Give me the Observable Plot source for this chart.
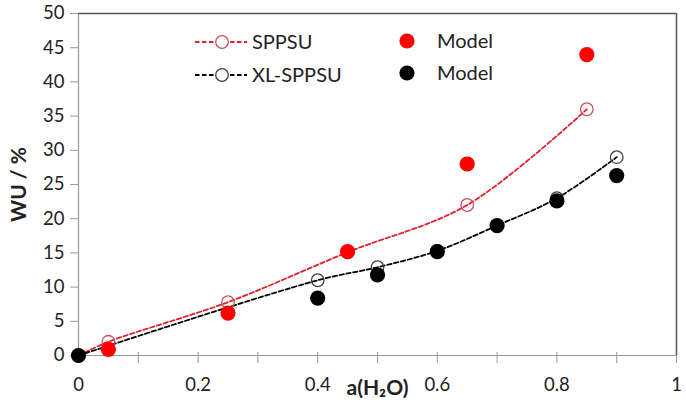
<!DOCTYPE html>
<html>
<head>
<meta charset="utf-8">
<script src="https://cdn.jsdelivr.net/npm/d3@7"></script>
<script src="https://cdn.jsdelivr.net/npm/@observablehq/plot@0.6"></script>
<style>
  html, body { margin: 0; padding: 0; background: #fff; }
  #chart { width: 686px; height: 406px; }
</style>
</head>
<body>
<div id="chart"></div>
<script>
// ---- data ----
const sppsuX = [0, 0.05, 0.25, 0.45, 0.65, 0.85];
const sppsuWU = [0, 2, 7.8, 15.1, 22, 36];
const sppsuModelX = [0.05, 0.25, 0.45, 0.65, 0.85];
const sppsuModelWU = [0.9, 6.2, 15.2, 28, 44];
const xlX = [0, 0.4, 0.5, 0.6, 0.7, 0.8, 0.9];
const xlWU = [0, 11, 12.9, 15.3, 19, 23, 29];
const xlModelX = [0, 0.4, 0.5, 0.6, 0.7, 0.8, 0.9];
const xlModelWU = [0, 8.4, 11.8, 15.2, 19, 22.6, 26.3];
const xTicksMajor = [0, 0.2, 0.4, 0.6, 0.8, 1];
const xTicksMinor = [0.1, 0.3, 0.5, 0.7, 0.9];
const yTicks = [0, 5, 10, 15, 20, 25, 30, 35, 40, 45, 50];
const legendItems = [
  {label: "SPPSU", kind: "line", color: "#e0202e", marker: "#c8505a"},
  {label: "XL-SPPSU", kind: "line", color: "#000000", marker: "#404040"},
  {label: "Model", kind: "dot", color: "#ff0000"},
  {label: "Model", kind: "dot", color: "#000000"}
];

const zip = (xs, ys) => xs.map((x, i) => ({x, y: ys[i]}));
const sppsu = zip(sppsuX, sppsuWU);
const sppsuModel = zip(sppsuModelX, sppsuModelWU);
const xl = zip(xlX, xlWU);
const xlModel = zip(xlModelX, xlModelWU);

const font = "Lato, 'Open Sans', sans-serif";
const blank = () => "";

const chart = Plot.plot({
  width: 686,
  height: 406,
  marginLeft: 78,
  marginRight: 10,
  marginTop: 13,
  marginBottom: 51,
  style: {fontFamily: font, fontSize: "18px", color: "#222", background: "#fff", overflow: "visible"},
  x: {domain: [0, 1]},
  y: {domain: [0, 50]},
  marks: [
    Plot.axisY({ticks: yTicks, tickSize: 8, tickPadding: 6, label: null, stroke: "#999", tickFormat: d => d, fontSize: 18.5}),
    Plot.axisX({ticks: xTicksMajor, tickSize: 8, tickPadding: 14, label: null, stroke: "#999", tickFormat: d => d, fontSize: 18.5}),
    Plot.axisX({ticks: xTicksMinor, tickSize: 8, tickFormat: blank, label: null, stroke: "#999"}),
    Plot.axisX({ticks: [...xTicksMajor, ...xTicksMinor], tickSize: -3, tickFormat: blank, label: null, stroke: "#999"}),
    Plot.ruleX([0], {stroke: "#999", strokeWidth: 1.2}),
    Plot.ruleY([0], {stroke: "#999", strokeWidth: 1.2}),
    Plot.ruleY([50], {stroke: "#555", strokeWidth: 1.5}),
    Plot.ruleX([1], {stroke: "#555", strokeWidth: 1.5}),
    Plot.line(sppsu, {x: "x", y: "y", stroke: "#e0202e", strokeWidth: 1.8, strokeDasharray: "4.5,2.5", curve: "catmull-rom"}),
    Plot.line(xl, {x: "x", y: "y", stroke: "#000", strokeWidth: 1.8, strokeDasharray: "4.5,2.5", curve: "catmull-rom"}),
    Plot.dot(sppsu, {x: "x", y: "y", r: 6.3, stroke: "#c8505a", strokeWidth: 1.3, fill: "none"}),
    Plot.dot(xl, {x: "x", y: "y", r: 6.3, stroke: "#404040", strokeWidth: 1.3, fill: "none"}),
    Plot.dot(sppsuModel, {x: "x", y: "y", r: 7.6, fill: "#ff0000", stroke: "none"}),
    Plot.dot(xlModel, {x: "x", y: "y", r: 7.6, fill: "#000", stroke: "none"}),
    Plot.text(["a(H₂O)"], {frameAnchor: "bottom", dy: 39, fontWeight: "bold", fontSize: 21, fill: "#222"}),
    Plot.text(["WU / %"], {frameAnchor: "left", dx: -59, rotate: -90, textAnchor: "middle", fontWeight: "bold", fontSize: 21, fill: "#222"})
  ]
});

// legend inside plot area
const svg = d3.select(chart);
const lg = svg.append("g").attr("font-family", font).attr("font-size", 20).attr("fill", "#222")
  .attr("text-anchor", "start");
const positions = [
  {x: 195, y: 42}, {x: 195, y: 75}, {x: 407, y: 41}, {x: 407, y: 73}
];
legendItems.forEach((it, i) => {
  const p = positions[i];
  const g = lg.append("g").attr("transform", `translate(${p.x},${p.y})`);
  if (it.kind === "line") {
    g.append("line").attr("x1", 0).attr("x2", 52).attr("y1", 0).attr("y2", 0)
      .attr("stroke", it.color).attr("stroke-width", 1.8).attr("stroke-dasharray", "4.5,2.5");
    g.append("circle").attr("cx", 27).attr("cy", 0).attr("r", 6.3).attr("fill", "#fff")
      .attr("stroke", it.marker).attr("stroke-width", 1.3);
    g.append("text").attr("x", 57).attr("y", 0).attr("dy", "0.35em").attr("text-anchor", "start").text(it.label);
  } else {
    g.append("circle").attr("cx", 0).attr("cy", 0).attr("r", 7.6).attr("fill", it.color);
    g.append("text").attr("x", 30).attr("y", 0).attr("dy", "0.35em").attr("text-anchor", "start").text(it.label);
  }
});

document.getElementById("chart").appendChild(chart);
</script>
</body>
</html>
